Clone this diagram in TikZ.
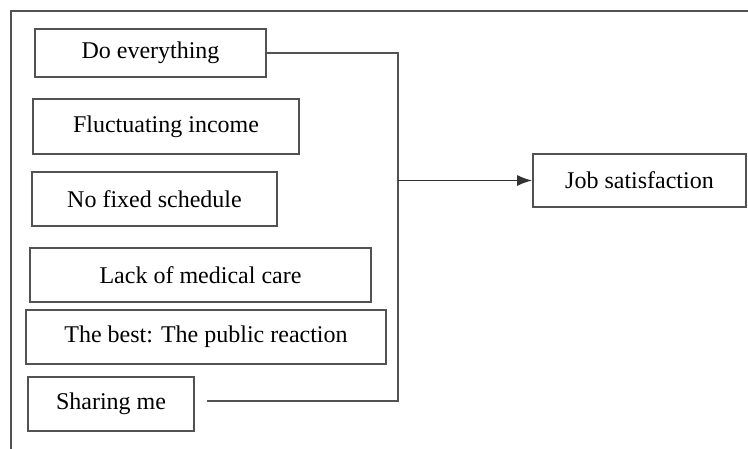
\documentclass[tikz,border=0pt]{standalone}
\usepackage{fontspec}
\setmainfont{Liberation Serif}
\usetikzlibrary{arrows.meta}
\begin{document}
\begin{tikzpicture}[x=1pt,y=-1pt,
  line/.style={draw=black!68,line width=1.6pt},
  factor/.style={line,rectangle,inner sep=0pt,font=\fontsize{24}{28}\selectfont,text=black}]
\useasboundingbox (0,0) rectangle (748,449);
\fill[white] (0,0) rectangle (748,449);
% partial frame
\draw[line] (11,449) -- (11,11) -- (748,11);
% factor boxes
\node[factor,minimum width=231pt,minimum height=48pt] (b1) at (150.5,53) {Do everything};
\node[factor,minimum width=266pt,minimum height=55pt] (b2) at (166,126.5) {Fluctuating income};
\node[factor,minimum width=245pt,minimum height=54pt] (b3) at (154.5,199) {No fixed schedule};
\node[factor,minimum width=341pt,minimum height=54pt] (b4) at (200.5,275) {Lack of medical care};
\node[factor,minimum width=360pt,minimum height=54pt] (b5) at (206,337) {The best: The public reaction};
\node[factor,minimum width=166pt,minimum height=54pt] (b6) at (111,404) {Sharing me};
\node[factor,minimum width=213pt,minimum height=53pt] (job) at (639.5,180.5) {Job satisfaction};
% bus
\coordinate (busTop) at (398,53);
\coordinate (busMid) at (398,180.5);
\coordinate (busBot) at (398,401);
\coordinate (sEnd) at (207,401);
\draw[line] (b1.east) -- (busTop) -- (busBot) -- (sEnd);
\draw[draw=black!80,line width=1.8pt,-{Latex[length=15pt,width=11pt]}] (busMid) -- (job.west);
\end{tikzpicture}
\end{document}
